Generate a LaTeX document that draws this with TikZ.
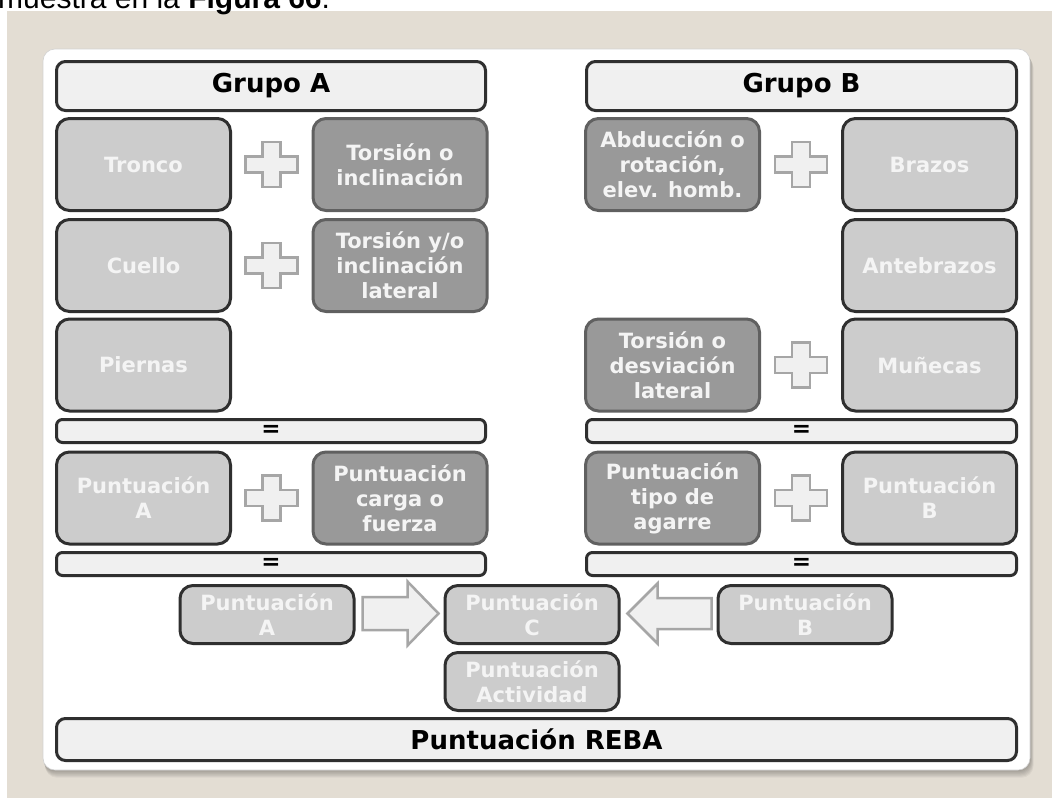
\documentclass[tikz,border=0pt]{standalone}
\usepackage{fontspec}
\setmainfont{DejaVu Sans}
\newfontfamily\bodyfont{Liberation Sans}
\usetikzlibrary{calc}

\definecolor{paper}{HTML}{E3DDD3}
\definecolor{lightfill}{HTML}{CCCCCC}
\definecolor{lightdraw}{HTML}{2F2F2F}
\definecolor{darkfill}{HTML}{999999}
\definecolor{darkdraw}{HTML}{606060}
\definecolor{headfill}{HTML}{F0F0F0}
\definecolor{boxtext}{HTML}{F4F4F4}
\definecolor{plusfill}{HTML}{F0F0F0}
\definecolor{plusdraw}{HTML}{A6A6A6}

\tikzset{
  box/.style={rounded corners=13pt, line width=3pt, minimum width=174pt,
    minimum height=92pt, align=center, inner sep=2pt, text=boxtext,
    font=\bfseries\fontsize{21}{25}\selectfont},
  light/.style={box, fill=lightfill, draw=lightdraw},
  dark/.style={box, fill=darkfill, draw=darkdraw},
  small/.style={light, minimum height=58pt},
  head/.style={rounded corners=9pt, line width=3pt, fill=headfill, draw=lightdraw,
    minimum width=429pt, minimum height=49pt, text=black,
    font=\bfseries\fontsize{26}{30}\selectfont},
  eqbar/.style={rounded corners=6pt, line width=3pt, fill=headfill, draw=lightdraw,
    minimum width=429pt, minimum height=23pt, inner sep=0pt, text=black,
    font=\bfseries\fontsize{23}{23}\selectfont},
  blockarrow/.style={fill=plusfill, draw=plusdraw, line width=2.5pt, line join=miter},
  plussign/.pic={
    \draw[fill=plusfill, draw=plusdraw, line width=2.8pt]
      (-9,-22.5) -- (9,-22.5) -- (9,-8) -- (26,-8) -- (26,8) -- (9,8)
      -- (9,22.5) -- (-9,22.5) -- (-9,8) -- (-26,8) -- (-26,-8) -- (-9,-8) -- cycle;
  }
}

\begin{document}
\begin{tikzpicture}[x=1pt, y=-1pt]
\useasboundingbox (0,0) rectangle (1052,798);
\clip (0,0) rectangle (1052,798);

% page and panel background
\fill[white] (0,0) rectangle (1052,798);
\fill[paper] (7,11) rectangle (1052,798);
\node[anchor=base west, inner sep=0pt, font=\bodyfont\fontsize{30}{34}\selectfont]
  (caption) at (-2,8) {muestra en la \textbf{Figura 66}.};

% card with soft shadow
\foreach \d in {1,...,7}
  \fill[black, opacity=0.045, rounded corners=12pt]
    (43+0.3*\d, 49+\d) rectangle (1030+0.5*\d, 770+1.1*\d);
\draw[gray!35, line width=0.6pt, fill=white, rounded corners=12pt]
  (43,49) rectangle (1030,770);

% group A
\node[head] (grpA) at (271,86) {Grupo A};
\node[light] (tronco) at (143.5,164.5) {Tronco};
\node[dark]  (torsA)  at (400,164.5) {Torsión o\\inclinación};
\node[light] (cuello) at (143.5,265.5) {Cuello};
\node[dark]  (torsB)  at (400,265.5) {Torsión y/o\\inclinación\\lateral};
\node[light] (piernas) at (143.5,365) {Piernas};
\node[eqbar] (eqA1) at (271,431) {=};
\node[light] (puntA) at (143.5,498) {Puntuación\\A};
\node[dark]  (carga) at (400,498) {Puntuación\\carga o\\fuerza};
\node[eqbar] (eqA2) at (271,564) {=};

% group B
\node[head, minimum width=430pt] (grpB) at (801.5,86) {Grupo B};
\node[dark]  (abduc)  at (672.5,164.5) {Abducción o\\rotación,\\elev. homb.};
\node[light] (brazos) at (929.5,164.5) {Brazos};
\node[light] (antebrazos) at (929.5,265.5) {Antebrazos};
\node[dark]  (torsC)  at (672.5,365) {Torsión o\\desviación\\lateral};
\node[light] (munecas) at (929.5,365) {Muñecas};
\node[eqbar, minimum width=430pt] (eqB1) at (801.5,431) {=};
\node[dark]  (agarre) at (672.5,498) {Puntuación\\tipo de\\agarre};
\node[light] (puntB)  at (929.5,498) {Puntuación\\B};
\node[eqbar, minimum width=430pt] (eqB2) at (801.5,564) {=};

% plus signs between paired boxes
\foreach \a/\b in {tronco/torsA, cuello/torsB, puntA/carga, abduc/brazos, torsC/munecas, agarre/puntB}
  \pic at ($(\a.east)!0.5!(\b.west)$) {plussign};

% final combination
\node[small] (pA2) at (267,614.5) {Puntuación\\A};
\node[small] (pC)  at (532,614.5) {Puntuación\\C};
\node[small] (pB2) at (805,614.5) {Puntuación\\B};
\node[small] (act) at (532,681.5) {Puntuación\\Actividad};
\node[head, minimum width=960pt, minimum height=42pt] (reba) at (536.5,739.5) {Puntuación REBA};

% block arrows into score C
\coordinate (r0) at ($(pA2.east)+(7,-1)$);
\coordinate (r1) at ($(pC.west)+(-5,-1)$);
\draw[blockarrow] ($(r0)+(0,-16.5)$) -- ($(r1)+(-31,-16.5)$) -- ($(r1)+(-31,-32)$)
  -- (r1) -- ($(r1)+(-31,32)$) -- ($(r1)+(-31,16.5)$) -- ($(r0)+(0,16.5)$) -- cycle;
\coordinate (l0) at ($(pB2.west)+(-5,-1)$);
\coordinate (l1) at ($(pC.east)+(7,-1)$);
\draw[blockarrow] ($(l0)+(0,-15.5)$) -- ($(l1)+(30,-15.5)$) -- ($(l1)+(30,-30)$)
  -- (l1) -- ($(l1)+(30,30)$) -- ($(l1)+(30,15.5)$) -- ($(l0)+(0,15.5)$) -- cycle;
\end{tikzpicture}
\end{document}
